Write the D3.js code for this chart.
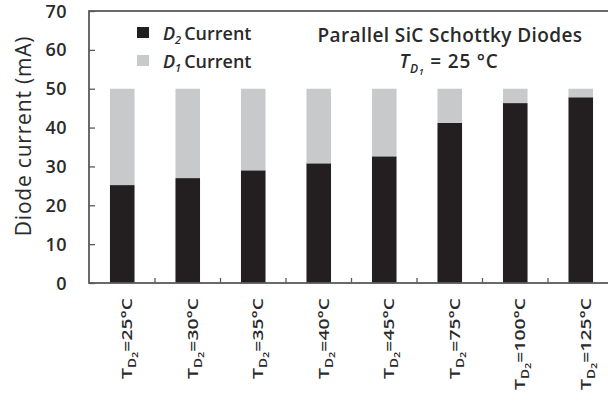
<!DOCTYPE html>
<html>
<head>
<meta charset="utf-8">
<script src="https://cdn.jsdelivr.net/npm/d3@7"></script>
<style>
  body { margin: 0; background: #fff; }
  text { font-family: "Open Sans", sans-serif; fill: #2a2a2a; }
</style>
</head>
<body>
<div id="chart"></div>
<script>
const temps = ['25', '30', '35', '40', '45', '75', '100', '125'];
const d2Current = [25.2, 27.0, 29.0, 30.8, 32.6, 41.2, 46.3, 47.8];
const d1Current = [24.8, 23.0, 21.0, 19.2, 17.4, 8.8, 3.7, 2.2];
const yTicks = [0, 10, 20, 30, 40, 50, 60, 70];

const width = 608, height = 407;
const margin = { left: 89, right: -6, top: 11, bottom: 124 };

const svg = d3.select('#chart').append('svg')
    .attr('width', width)
    .attr('height', height);

const x = d3.scaleBand()
    .domain(temps)
    .range([margin.left, width - margin.right])
    .paddingInner(0.625)
    .paddingOuter(0.32);

const y = d3.scaleLinear()
    .domain([0, 70])
    .range([height - margin.bottom, margin.top]);

// stacked bars: D2 at bottom, D1 on top
const g = svg.append('g');
temps.forEach((t, i) => {
  g.append('rect')
      .attr('x', x(t))
      .attr('y', y(d2Current[i]))
      .attr('width', x.bandwidth())
      .attr('height', y(0) - y(d2Current[i]))
      .attr('fill', '#231f20');
  g.append('rect')
      .attr('x', x(t))
      .attr('y', y(d2Current[i] + d1Current[i]))
      .attr('width', x.bandwidth())
      .attr('height', y(d2Current[i]) - y(d2Current[i] + d1Current[i]))
      .attr('fill', '#c8c9cb');
});

// frame
svg.append('rect')
    .attr('x', margin.left)
    .attr('y', margin.top)
    .attr('width', width - margin.right - margin.left)
    .attr('height', y(0) - margin.top)
    .attr('fill', 'none')
    .attr('stroke', '#5a5a5a')
    .attr('stroke-width', 1.8);

// y axis ticks (inside)
const yAxis = svg.append('g')
    .attr('transform', `translate(${margin.left},0)`)
    .call(d3.axisRight(y).tickValues(yTicks).tickSize(6).tickFormat(''));
yAxis.select('.domain').remove();
yAxis.selectAll('line').attr('stroke', '#5a5a5a').attr('stroke-width', 1.3);

svg.selectAll('.ylab')
    .data(yTicks)
    .enter().append('text')
    .attr('x', 67)
    .attr('y', d => y(d) + 6.5)
    .attr('text-anchor', 'end')
    .style('font-size', '18px')
    .style('font-weight', 600)
    .style('letter-spacing', '0.5px')
    .text(d => d);

svg.append('text')
    .attr('transform', 'translate(31,136) rotate(-90)')
    .attr('text-anchor', 'middle')
    .style('font-size', '21px')
    .style('font-weight', 500)
    .style('letter-spacing', '0.8px')
    .text('Diode current  (mA)');

// x ticks at band boundaries
const gap = x.step() - x.bandwidth();
const bounds = temps.slice(1).map(t => x(t) - gap / 2);
svg.selectAll('.xtick')
    .data(bounds)
    .enter().append('line')
    .attr('x1', d => d).attr('x2', d => d)
    .attr('y1', y(0)).attr('y2', y(0) - 5)
    .attr('stroke', '#5a5a5a')
    .attr('stroke-width', 1.3);

// x labels, stretched along the text like the source
temps.forEach(t => {
  const cx = x(t) + x.bandwidth() / 2 + 10;
  const lab = svg.append('text')
      .attr('transform', `translate(${cx},${y(0) + 15}) rotate(-90) scale(1.38,1)`)
      .attr('text-anchor', 'end')
      .style('font-size', '14px')
      .style('font-weight', 600);
  lab.append('tspan').text('T');
  lab.append('tspan').attr('dy', 4).style('font-size', '10px').text('D');
  lab.append('tspan').attr('dy', 2).style('font-size', '8px').text('2');
  lab.append('tspan').attr('dy', -6).text('=' + t + '°C');
});

// legend
const legend = [
  { sub: '2', color: '#231f20' },
  { sub: '1', color: '#c8c9cb' }
];
legend.forEach((d, i) => {
  const ly = 40 + i * 28;
  svg.append('rect')
      .attr('x', 137).attr('y', ly - 13)
      .attr('width', 12).attr('height', 11)
      .attr('fill', d.color);
  const t = svg.append('text')
      .attr('x', 163).attr('y', ly)
      .style('font-size', '18px')
      .style('font-weight', 600);
  t.append('tspan').style('font-style', 'italic').text('D');
  t.append('tspan').attr('dy', 4).style('font-size', '11px').style('font-style', 'italic').text(d.sub);
  t.append('tspan').attr('dy', -4).attr('dx', 3).text('Current');
});

// title
svg.append('text')
    .attr('x', 450).attr('y', 42)
    .attr('text-anchor', 'middle')
    .style('font-size', '19px')
    .style('font-weight', 600)
    .style('letter-spacing', '0.4px')
    .text('Parallel SiC Schottky Diodes');

const tt = svg.append('text')
    .attr('x', 449).attr('y', 68)
    .attr('text-anchor', 'middle')
    .style('font-size', '19px')
    .style('font-weight', 600)
    .style('letter-spacing', '0.8px');
tt.append('tspan').style('font-style', 'italic').text('T');
tt.append('tspan').attr('dy', 5).style('font-size', '12px').style('font-style', 'italic').text('D');
tt.append('tspan').attr('dy', 2).style('font-size', '9px').style('font-style', 'italic').text('1');
tt.append('tspan').attr('dy', -7).text(' = 25 °C');
</script>
</body>
</html>
